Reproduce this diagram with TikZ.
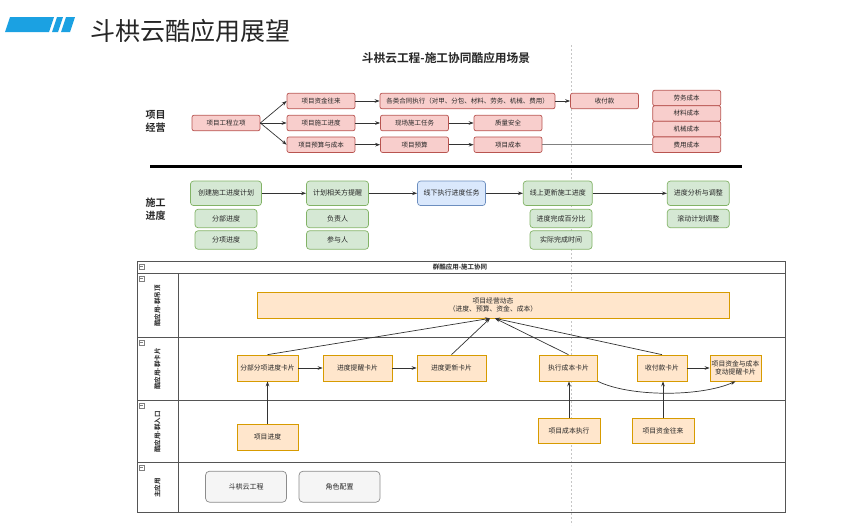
\documentclass[tikz,border=0pt]{standalone}
\usepackage{fontspec}
\setmainfont{Noto Sans CJK SC}[BoldFont={Noto Sans CJK SC Bold}]
\usepackage{xcolor}
\usetikzlibrary{arrows.meta}

\definecolor{titleblue}{HTML}{1BA1E2}
\definecolor{pinkfill}{HTML}{F8CECC}
\definecolor{pinkline}{HTML}{B85450}
\definecolor{greenfill}{HTML}{D5E8D4}
\definecolor{greenline}{HTML}{82B366}
\definecolor{bluefill}{HTML}{DAE8FC}
\definecolor{blueline}{HTML}{6C8EBF}
\definecolor{orangefill}{HTML}{FFE6CC}
\definecolor{orangeline}{HTML}{D79B00}
\definecolor{appfill}{HTML}{F5F5F5}
\definecolor{appline}{HTML}{8C8C8C}
\definecolor{edgegray}{HTML}{333333}
\definecolor{lanegray}{HTML}{555555}

\begin{document}
\begin{tikzpicture}[
  x=1pt, y=-1pt,
  every node/.style={font=\fontsize{6.5}{8}\selectfont, inner sep=1pt, text=black!85},
  every path/.style={line width=0.7pt},
  pinkbox/.style={rectangle, rounded corners=2pt, draw=pinkline, fill=pinkfill, minimum width=68pt, minimum height=15.5pt},
  greenbox/.style={rectangle, rounded corners=3pt, draw=greenline, fill=greenfill, minimum width=62pt, minimum height=18.4pt, font=\fontsize{7}{8}\selectfont},
  greenmain/.style={greenbox, minimum height=24.5pt},
  bluemain/.style={greenmain, draw=blueline, fill=bluefill},
  card/.style={rectangle, draw=orangeline, fill=orangefill, minimum height=26pt, font=\fontsize{6.8}{8.5}\selectfont, align=center},
  appbox/.style={rectangle, rounded corners=4pt, draw=appline, fill=appfill, minimum width=81pt, minimum height=31pt, font=\fontsize{7}{8}\selectfont},
  rowlabel/.style={font=\fontsize{10}{13}\selectfont\bfseries, align=center},
  lanelabel/.style={rotate=90, font=\fontsize{6.5}{8}\selectfont\bfseries},
  lane/.style={draw=lanegray, line width=0.9pt},
  minusbox/.style={rectangle, draw=gray, line width=0.4pt, minimum size=4.5pt, inner sep=0pt,
    path picture={\draw[line width=0.4pt] ([xshift=1pt]path picture bounding box.west) -- ([xshift=-1pt]path picture bounding box.east);}},
]
\tikzset{>={Stealth[length=5pt, width=3.6pt]}}

  \useasboundingbox (0,0) rectangle (864,525);

  % guide line
  \draw[gray!45, line width=0.6pt, dash pattern=on 2pt off 2pt] (571.5,45) -- (571.5,525);

  % Title
  \fill[titleblue] (5,32) -- (10,17) -- (54,17) -- (49,32) -- cycle;
  \fill[titleblue] (52,32) -- (57,17) -- (63,17) -- (58,32) -- cycle;
  \fill[titleblue] (61,32) -- (66,17) -- (75,17) -- (70,32) -- cycle;
  \node[font=\fontsize{25}{28}\selectfont, inner sep=0pt] (title) at (190,31) {斗栱云酷应用展望};
  \node[font=\fontsize{11.7}{13}\selectfont\bfseries] (subtitle) at (446,58) {斗栱云工程-施工协同酷应用场景};

  % Row: 项目经营
  \node[rowlabel] (jy) at (155.5,121.5) {项目\\经营};
  \node[pinkbox] (lixiang) at (226,123) {项目工程立项};
  \node[pinkbox] (zijin) at (321,101) {项目资金往来};
  \node[pinkbox] (shigong) at (321,123) {项目施工进度};
  \node[pinkbox] (yusuan) at (321,144.7) {项目预算与成本};
  \node[pinkbox, minimum width=175pt] (hetong) at (467.5,101) {各类合同执行（对甲、分包、材料、劳务、机械、费用）};
  \node[pinkbox] (xianchang) at (414.5,123) {现场施工任务};
  \node[pinkbox] (xmys) at (414.5,144.7) {项目预算};
  \node[pinkbox] (shoufu) at (604.5,101) {收付款};
  \node[pinkbox] (zhiliang) at (508,123) {质量安全};
  \node[pinkbox] (xmcb) at (508,144.7) {项目成本};
  \node[pinkbox] (laowu) at (686.7,98) {劳务成本};
  \node[pinkbox] (cailiao) at (686.7,113.5) {材料成本};
  \node[pinkbox] (jixie) at (686.7,129) {机械成本};
  \node[pinkbox] (feiyong) at (686.7,144.7) {费用成本};

  \draw[->, edgegray] (lixiang.east) -- (zijin.west);
  \draw[->, edgegray] (lixiang.east) -- (shigong.west);
  \draw[->, edgegray] (lixiang.east) -- (yusuan.west);
  \draw[->, edgegray] (zijin) -- (hetong);
  \draw[->, edgegray] (hetong) -- (shoufu);
  \draw[->, edgegray] (shigong) -- (xianchang);
  \draw[->, edgegray] (xianchang) -- (zhiliang);
  \draw[->, edgegray] (yusuan) -- (xmys);
  \draw[->, edgegray] (xmys) -- (xmcb);
  \draw[gray] (xmcb) -- (feiyong);

  \draw[line width=2.6pt] (150,166.7) -- (742,166.7);

  % Row: 施工进度
  \node[rowlabel] (jd) at (155.5,209) {施工\\进度};
  \node[greenmain, minimum width=71pt] (chuangjian) at (226,193.3) {创建施工进度计划};
  \node[greenbox] (fenbu) at (226,218.5) {分部进度};
  \node[greenbox] (fenxiang) at (226,240) {分项进度};
  \node[greenmain] (tixing) at (337.5,193.3) {计划相关方提醒};
  \node[greenbox] (fuze) at (337.5,218.5) {负责人};
  \node[greenbox] (canyu) at (337.5,240) {参与人};
  \node[bluemain, minimum width=68pt] (xianxia) at (451.5,193.3) {线下执行进度任务};
  \node[greenmain, minimum width=69pt] (xianshang) at (557.8,193.3) {线上更新施工进度};
  \node[greenbox] (baifen) at (561,218.5) {进度完成百分比};
  \node[greenbox] (shijian) at (561,240) {实际完成时间};
  \node[greenmain] (fenxi) at (698.3,193.3) {进度分析与调整};
  \node[greenbox] (gundong) at (698.3,218.5) {滚动计划调整};

  \draw[->, edgegray] (chuangjian) -- (tixing);
  \draw[->, edgegray] (tixing) -- (xianxia);
  \draw[->, edgegray] (xianxia) -- (xianshang);
  \draw[->, edgegray] (xianshang) -- (fenxi);

  % Swimlanes
  \draw[lane] (137,261) rectangle (785,512);
  \foreach \y in {273,337,400,462}
    \draw[lane] (137,\y) -- (785,\y);
  \draw[lane] (178,273) -- (178,512);
  \node[font=\fontsize{6.5}{8}\selectfont\bfseries] (pool) at (460,267) {群酷应用-施工协同};
  \foreach \y [count=\i] in {266.5,278.5,342.5,405.5,467.5}
    \node[minusbox] (m\i) at (141.7,\y) {};
  \node[lanelabel] (lane1) at (157.5,306) {酷应用-群吊顶};
  \node[lanelabel] (lane2) at (157.5,369) {酷应用-群卡片};
  \node[lanelabel] (lane3) at (157.5,432) {酷应用-群入口};
  \node[lanelabel] (lane4) at (157.5,488) {主应用};

  % Cards
  \node[card, minimum width=472pt, minimum height=26pt] (dongtai) at (493,305) {项目经营动态\\（进度、预算、资金、成本）};
  \node[card, minimum width=61pt] (fbfx) at (267.5,368) {分部分项进度卡片};
  \node[card, minimum width=69pt] (txkp) at (357.5,368) {进度提醒卡片};
  \node[card, minimum width=69pt] (gxkp) at (451.5,368) {进度更新卡片};
  \node[card, minimum width=58pt] (zxcb) at (568.5,368) {执行成本卡片};
  \node[card, minimum width=50pt] (sfkp) at (662,368) {收付款卡片};
  \node[card, minimum width=51pt] (zjtx) at (735.5,368) {项目资金与成本\\变动提醒卡片};
  \node[card, minimum width=61pt] (xmjd) at (267.5,437) {项目进度};
  \node[card, minimum width=62pt, minimum height=25pt] (cbzx) at (569,430.5) {项目成本执行};
  \node[card, minimum width=62pt, minimum height=25pt] (zjwl) at (663,430.5) {项目资金往来};
  \node[appbox] (dgy) at (246,486.7) {斗栱云工程};
  \node[appbox] (jspz) at (339.5,486.7) {角色配置};

  \draw[->, edgegray] (fbfx) -- (txkp);
  \draw[->, edgegray] (txkp) -- (gxkp);
  \draw[->, edgegray] (sfkp) -- (zjtx);
  \draw[->, edgegray] (xmjd) -- (fbfx);
  \draw[->, edgegray] (cbzx.north) -- (cbzx.north |- zxcb.south);
  \draw[->, edgegray] (zjwl.north) -- (zjwl.north |- sfkp.south);
  \draw[->, edgegray] (fbfx.north) -- ([xshift=-3pt]dongtai.south);
  \draw[->, edgegray] (gxkp.north) -- ([xshift=-3pt]dongtai.south);
  \draw[->, edgegray] (zxcb.north) -- ([xshift=2pt]dongtai.south);
  \draw[->, edgegray] (sfkp.north) -- ([xshift=2pt]dongtai.south);
  \draw[->, edgegray] (zxcb.south east) .. controls (630,397) and (700,397) .. (zjtx.south);

\end{tikzpicture}
\end{document}
